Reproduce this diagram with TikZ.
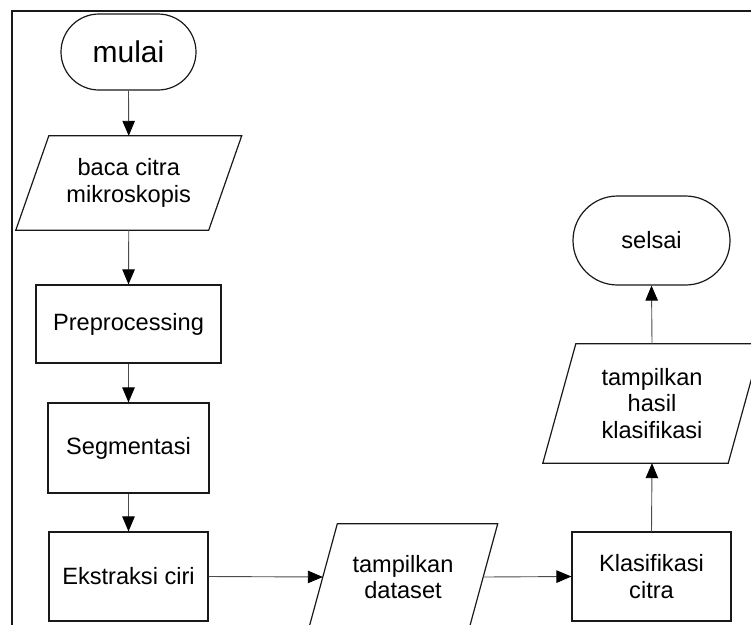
\documentclass[tikz,border=0pt]{standalone}
\usepackage{fontspec}
\setmainfont{Liberation Sans}
\usetikzlibrary{arrows.meta,shapes.misc,calc}
\begin{document}
\begin{tikzpicture}[x=1pt,y=-1pt,
  txt/.style={font=\fontsize{23.6}{26.5}\selectfont,align=center,inner sep=1pt},
  term/.style={txt,draw=black!90,line width=1.2pt,rounded rectangle},
  procbox/.style={txt,draw=black!90,line width=1.2pt,rectangle},
  iobox/.style={txt,rectangle},
  ioline/.style={draw=black!90,line width=1.2pt,line join=miter},
  conn/.style={draw=black!70,line width=0.9pt,-{Triangle[length=15pt,width=12.5pt,color=black,fill=black]}},
  frame/.style={draw=black!90,line width=2pt}
]
\useasboundingbox (0,0) rectangle (751,624);
\clip (0,0) rectangle (751,624);

% frame
\draw[frame] (12,630) -- (12,11) -- (760,11);

% nodes
\node[term,minimum width=137,minimum height=76,font=\fontsize{30}{32}\selectfont] (mulai) at (128.5,52) {mulai};
\node[iobox,minimum width=192.5,minimum height=94] (baca) at (128.75,183) {baca citra\\mikroskopis};
\node[procbox,minimum width=185,minimum height=78] (pre) at (128.5,324) {Preprocessing};
\node[procbox,minimum width=161,minimum height=90] (seg) at (128.5,448) {Segmentasi};
\node[procbox,minimum width=159,minimum height=89] (eks) at (128.5,576.5) {Ekstraksi ciri};
\node[iobox,minimum width=160,minimum height=106] (data) at (403,577) {tampilkan\\dataset};
\node[procbox,minimum width=159,minimum height=89] (klas) at (651.5,576.5) {Klasifikasi\\citra};
\node[iobox,minimum width=185,minimum height=119] (hasil) at (652,403.5) {tampilkan\\hasil\\klasifikasi};
\node[term,minimum width=159,minimum height=89] (selsai) at (651.5,240.5) {selsai};

% parallelograms
\draw[ioline] ([xshift=-16.5pt]baca.south west) -- ([xshift=-16.5pt]baca.south east)
  -- ([xshift=16.5pt]baca.north east) -- ([xshift=16.5pt]baca.north west) -- cycle;
\draw[ioline] ([xshift=-14.5pt]data.south west) -- ([xshift=-14.5pt]data.south east)
  -- ([xshift=14.5pt]data.north east) -- ([xshift=14.5pt]data.north west) -- cycle;
\draw[ioline] ([xshift=-16.5pt]hasil.south west) -- ([xshift=-16.5pt]hasil.south east)
  -- ([xshift=16.5pt]hasil.north east) -- ([xshift=16.5pt]hasil.north west) -- cycle;

% connectors
\draw[conn] (mulai.south) -- (baca.north);
\draw[conn] (baca.south) -- (pre.north);
\draw[conn] (pre.south) -- (seg.north);
\draw[conn] (seg.south) -- (eks.north);
\draw[conn] (eks.east) -- (data.west);
\draw[conn] (data.east) -- (klas.west);
\draw[conn] (klas.north) -- (hasil.south);
\draw[conn] (hasil.north) -- (selsai.south);
\end{tikzpicture}
\end{document}
